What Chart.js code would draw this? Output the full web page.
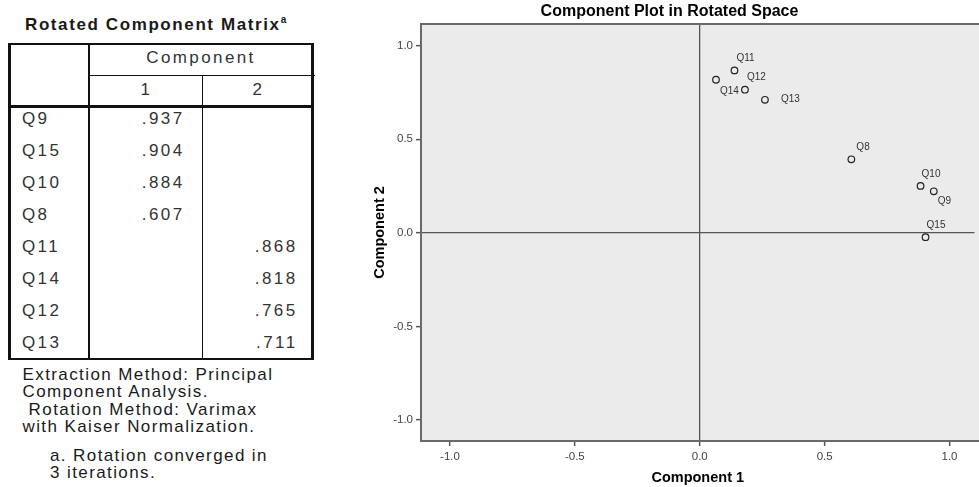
<!DOCTYPE html>
<html>
<head>
<meta charset="utf-8">
<script src="https://cdn.jsdelivr.net/npm/chart.js@4.4.0/dist/chart.umd.min.js"></script>
<style>
  body { margin: 0; width: 979px; height: 487px; overflow: hidden; background: #fff; position: relative;
         font-family: "Liberation Sans", Arial, sans-serif; }
  .t { position: absolute; white-space: pre; line-height: 20px; height: 20px; }
  .ln { position: absolute; background: #111; }
  .cell { font-size: 17px; letter-spacing: 2.4px; color: #333; }
  .foot { font-size: 17px; letter-spacing: 1.4px; color: #1a1a1a; }
  #plot { position: absolute; left: 360px; top: 0; width: 619px; height: 487px; }
</style>
</head>
<body>
<div id="matrix"></div>
<div id="plot"><canvas id="chartPlot"></canvas></div>
<script>
const itemNames = ['Q9', 'Q15', 'Q10', 'Q8', 'Q11', 'Q14', 'Q12', 'Q13'];
const comp1 = [0.937, 0.904, 0.884, 0.607, 0.139, 0.065, 0.181, 0.261];
const comp2 = [0.222, -0.023, 0.251, 0.393, 0.868, 0.818, 0.765, 0.711];
const axisTicks = [-1.0, -0.5, 0.0, 0.5, 1.0];
const componentHeads = ['1', '2'];

const footLines = ['Extraction Method: Principal', 'Component Analysis.', ' Rotation Method: Varimax', 'with Kaiser Normalization.'];
const noteLines = ['a. Rotation converged in', '3 iterations.'];

// onde fica o rotulo de cada ponto (dx, dy em px)
const labelOffsets = {
  Q9: [4, 10], Q15: [1, -12], Q10: [1, -12], Q8: [5, -12],
  Q11: [2, -12], Q14: [4, 11], Q12: [2, -12], Q13: [16, -1]
};

const box = document.getElementById('matrix');

function txt(s, x, cy, cls, align) {
  const d = document.createElement('div');
  d.className = 't ' + cls;
  d.textContent = s;
  d.style.left = x + 'px';
  d.style.top = (cy - 10) + 'px';
  if (align === 'right') d.style.transform = 'translateX(-100%)';
  if (align === 'center') d.style.transform = 'translateX(-50%)';
  box.appendChild(d);
  return d;
}

function linha(x, y, w, h) {
  const d = document.createElement('div');
  d.className = 'ln';
  d.style.left = x + 'px';
  d.style.top = y + 'px';
  d.style.width = w + 'px';
  d.style.height = h + 'px';
  box.appendChild(d);
}

function fmt(v) {
  return Math.abs(v) >= 0.5 ? v.toFixed(3).replace(/^0/, '') : '';
}

// titulo da tabela
const tt = txt('', 25, 20, '', 'left');
tt.style.fontSize = '17px';
tt.style.fontWeight = 'bold';
tt.style.letterSpacing = '1.6px';
tt.style.color = '#1a1a1a';
tt.innerHTML = 'Rotated Component Matrix<sup style="font-size:10px;letter-spacing:0">a</sup>';

// grade
linha(8, 42.5, 305.5, 2.5);
linha(8, 357.5, 305.5, 2.5);
linha(8, 42.5, 2.5, 317.5);
linha(311, 42.5, 2.5, 317.5);
linha(87.5, 42.5, 2.5, 317.5);
linha(89, 74.5, 226, 1.2);
linha(8, 105, 305.5, 2.5);
linha(201.5, 75, 1.5, 285);

txt('Component', 201, 58, 'cell', 'center');
txt(componentHeads[0], 146.5, 90, 'cell', 'center');
txt(componentHeads[1], 258.5, 90, 'cell', 'center');

for (let i = 0; i < itemNames.length; i++) {
  const cy = 119 + i * 32;
  txt(itemNames[i], 22, cy, 'cell', 'left');
  txt(fmt(comp1[i]), 184.5, cy, 'cell', 'right');
  txt(fmt(comp2[i]), 297.5, cy, 'cell', 'right');
}

for (let i = 0; i < footLines.length; i++) {
  txt(footLines[i], 22.5, 375 + i * 17.3, 'foot', 'left');
}
for (let i = 0; i < noteLines.length; i++) {
  txt(noteLines[i], 50, 456 + i * 16.5, 'foot', 'left');
}

// fundo cinza, moldura (sem lado direito, vai ate a borda) e rotulos dos pontos
const plotFrame = {
  id: 'plotFrame',
  beforeDraw(chart) {
    const { ctx, chartArea: a } = chart;
    ctx.save();
    ctx.fillStyle = '#ebebeb';
    ctx.fillRect(a.left, a.top, chart.width - a.left, a.bottom - a.top);
    ctx.restore();
  },
  afterDatasetsDraw(chart) {
    const { ctx, chartArea: a, scales } = chart;
    ctx.save();
    ctx.strokeStyle = '#6a6a6a';
    ctx.lineWidth = 2;
    ctx.beginPath();
    ctx.moveTo(chart.width, a.top);
    ctx.lineTo(a.left, a.top);
    ctx.lineTo(a.left, a.bottom);
    ctx.lineTo(chart.width, a.bottom);
    ctx.stroke();
    ctx.font = '10px "Liberation Sans", Arial, sans-serif';
    ctx.fillStyle = '#333';
    ctx.textBaseline = 'middle';
    ctx.textAlign = 'left';
    for (let i = 0; i < itemNames.length; i++) {
      const off = labelOffsets[itemNames[i]];
      const px = scales.x.getPixelForValue(comp1[i]);
      const py = scales.y.getPixelForValue(comp2[i]);
      ctx.fillText(itemNames[i], px + off[0], py + off[1]);
    }
    ctx.restore();
  }
};

const gridZero = {
  color: (c) => (c.tick && c.tick.value === 0) ? '#555' : 'rgba(0,0,0,0)',
  lineWidth: 1.3,
  drawTicks: true,
  tickLength: 5,
  tickColor: '#555',
  tickWidth: 1.5
};

new Chart(document.getElementById('chartPlot'), {
  type: 'scatter',
  data: {
    datasets: [{
      label: 'Itens',
      data: itemNames.map((n, i) => ({ x: comp1[i], y: comp2[i] })),
      pointRadius: 3.3,
      pointHoverRadius: 3.3,
      borderWidth: 1.2,
      borderColor: '#222',
      backgroundColor: 'rgba(0,0,0,0)'
    }]
  },
  options: {
    responsive: true,
    maintainAspectRatio: false,
    animation: false,
    events: [],
    layout: { padding: 0 },
    plugins: {
      legend: { display: false },
      tooltip: { enabled: false },
      title: {
        display: true,
        text: 'Component Plot in Rotated Space',
        color: '#000',
        font: { size: 16, weight: 'bold', family: '"Liberation Sans", Arial, sans-serif' },
        padding: { top: 2.4, bottom: 2.4 }
      }
    },
    scales: {
      x: {
        type: 'linear',
        min: -1.116,
        max: 1.1,
        afterBuildTicks: (s) => { s.ticks = axisTicks.map(v => ({ value: v })); },
        afterFit: (s) => { s.height = 46; },
        ticks: {
          callback: (v) => Number(v).toFixed(1),
          color: '#444',
          font: { size: 11.5, family: '"Liberation Sans", Arial, sans-serif' },
          padding: 4,
          maxRotation: 0,
          autoSkip: false
        },
        grid: gridZero,
        border: { display: false },
        title: {
          display: true,
          text: 'Component 1',
          color: '#000',
          font: { size: 14.5, weight: 'bold', family: '"Liberation Sans", Arial, sans-serif' },
          padding: { top: 0, bottom: 0 }
        }
      },
      y: {
        type: 'linear',
        min: -1.112,
        max: 1.116,
        afterBuildTicks: (s) => { s.ticks = axisTicks.map(v => ({ value: v })); },
        afterFit: (s) => { s.width = 61; },
        ticks: {
          callback: (v) => Number(v).toFixed(1),
          color: '#444',
          font: { size: 11.5, family: '"Liberation Sans", Arial, sans-serif' },
          padding: 3,
          autoSkip: false
        },
        grid: gridZero,
        border: { display: false },
        title: {
          display: true,
          text: 'Component 2',
          color: '#000',
          font: { size: 14.5, weight: 'bold', family: '"Liberation Sans", Arial, sans-serif' },
          padding: { top: 11.3, bottom: 0 }
        }
      }
    }
  },
  plugins: [plotFrame]
});
</script>
</body>
</html>
